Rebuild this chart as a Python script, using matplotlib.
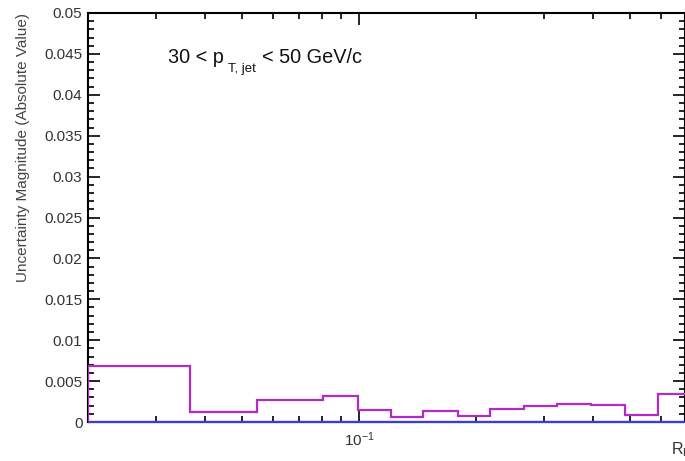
import matplotlib
matplotlib.use('Agg')
import matplotlib.pyplot as plt
import numpy as np
from matplotlib.ticker import FixedLocator, NullFormatter, MultipleLocator, FuncFormatter

plt.rcParams['font.family'] = ['Liberation Sans', 'DejaVu Sans']
plt.rcParams['mathtext.fontset'] = 'custom'
plt.rcParams['mathtext.rm'] = 'Liberation Sans'
plt.rcParams['mathtext.it'] = 'Liberation Sans:italic'

# bin edges in R_L (log binned) and uncertainty per bin
bin_edges = [0.02, 0.0367, 0.0546, 0.0808, 0.0994, 0.121, 0.146, 0.180,
             0.218, 0.266, 0.324, 0.396, 0.485, 0.590, 0.72]
uncertainty = [0.0069, 0.00119, 0.00265, 0.00314, 0.0015, 0.0006, 0.00138,
               0.00073, 0.00155, 0.00192, 0.00224, 0.00208, 0.00089, 0.00342]
reference = [0.0] * len(uncertainty)

x_range = (0.02, 0.69)
y_range = (0.0, 0.05)

W, H = 685, 461
fig = plt.figure(figsize=(W / 100, H / 100), dpi=100)
ax = fig.add_axes([88 / W, (H - 422) / H, (684.5 - 88) / W, (422 - 13) / H])

ax.stairs(uncertainty, bin_edges, color='#b42ac8', linewidth=1.6, zorder=3)
ax.stairs(reference, bin_edges, color='#3a3ae0', linewidth=1.6, zorder=5,
          clip_on=False)

ax.set_xscale('log')
ax.set_xlim(*x_range)
ax.set_ylim(*y_range)

ax.xaxis.set_major_locator(FixedLocator([0.1]))
ax.xaxis.set_minor_locator(FixedLocator([0.03, 0.04, 0.05, 0.06, 0.07, 0.08, 0.09,
                                         0.2, 0.3, 0.4, 0.5, 0.6, 0.7]))
ax.xaxis.set_major_formatter(FuncFormatter(lambda v, p: r'$10^{-1}$'))
ax.xaxis.set_minor_formatter(NullFormatter())

ax.yaxis.set_major_locator(MultipleLocator(0.005))
ax.yaxis.set_minor_locator(MultipleLocator(0.001))
ax.yaxis.set_major_formatter(FuncFormatter(lambda v, p: '0' if v == 0 else ('%g' % round(v, 4))))

ax.tick_params(which='both', direction='in', top=True, right=True, colors='black',
               labelcolor='#333333', labelsize=11, width=1.2)
ax.tick_params(which='major', length=8.5)
ax.tick_params(which='minor', length=4.5)
ax.tick_params(axis='x', which='major', pad=6)
ax.tick_params(axis='y', which='major', pad=4)
for s in ax.spines.values():
    s.set_linewidth(1.5)

ax.set_ylabel('Uncertainty Magnitude (Absolute Value)', fontsize=11, loc='top',
              color='#444444')
ax.yaxis.set_label_coords(-58 / (684.5 - 88), 1.0)

# pT bin label, subscript drawn low like the ROOT latex
fs_main, fs_sub = 14.3, 9.5
fig.text(168 / W, 1 - 63 / H, '30 < p', fontsize=fs_main, va='baseline', color='#111111')
fig.text(228 / W, 1 - 72 / H, 'T, jet', fontsize=fs_sub, va='baseline', color='#111111')
fig.text(262 / W, 1 - 63 / H, '< 50 GeV/c', fontsize=fs_main, va='baseline', color='#111111')

fig.text(671 / W, 1 - 454 / H, r'R$_{\mathrm{L}}$', fontsize=11.5, ha='left', va='baseline',
         color='#333333')

fig.savefig('out.png', dpi=100)
